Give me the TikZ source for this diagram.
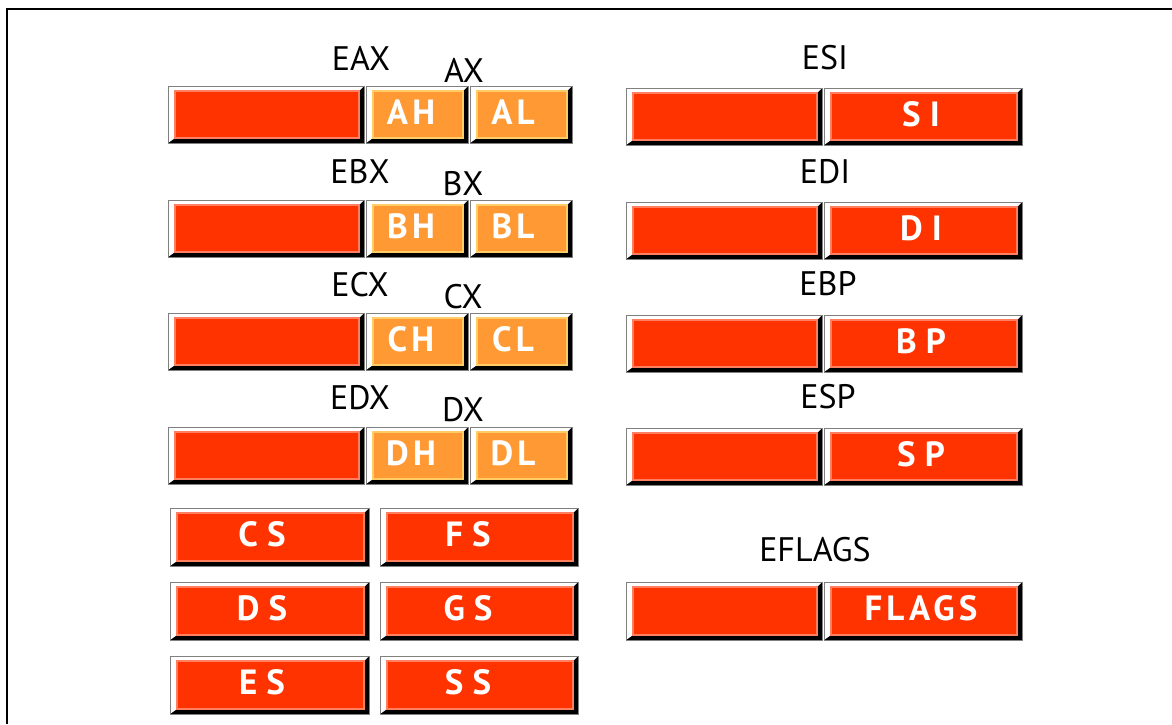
\documentclass[tikz,border=0pt]{standalone}
\usepackage{fontspec}
\setmainfont{PT Sans}
\newfontfamily\boxfont[LetterSpace=12]{PT Sans}
\definecolor{regred}{HTML}{FF3300}
\definecolor{regredline}{HTML}{FF8060}
\definecolor{regorange}{HTML}{FF9933}
\definecolor{regorangeline}{HTML}{FFCC66}
\newcommand\lgap{\hspace{9pt}}
\tikzset{
  redface/.style={fill=regred, draw=regredline, line width=1.2pt},
  orangeface/.style={fill=regorange, draw=regorangeline, line width=1.2pt},
  boxlabel/.style={text=white, font=\boxfont\bfseries\fontsize{35}{35}\selectfont, inner sep=0pt},
  reglabel/.style={text=black, font=\fontsize{34}{34}\selectfont, inner sep=0pt},
}
% name, x0, y0, x1, y1, face style, label x, label text
\newcommand\regbox[8]{%
  \fill[black] (#2,#3) rectangle (#4,#5);
  \fill[white] (#2,#3) -- (#4,#3) -- ({#4-5},{#3+5}) -- ({#2+7},{#3+5}) -- ({#2+7},{#5-5}) -- (#2,#5) -- cycle;
  \draw[gray, line width=1pt] (#2,#3) rectangle (#4,#5);
  \node[#6, inner sep=0pt, outer sep=0pt, minimum width={#4-#2-12}, minimum height={#5-#3-10}] (#1) at ({(#2+#4+2)/2},{(#3+#5)/2}) {};
  \node[boxlabel] (#1-t) at (#7,{#3+26}) {#8};
}
\begin{document}
\begin{tikzpicture}[x=1pt,y=-1pt]
\useasboundingbox (0,0) rectangle (1172,724);
\fill[white] (0,0) rectangle (1172,724);
% frame
\coordinate (f-tr) at (1172,9);
\coordinate (f-tl) at (7,9);
\coordinate (f-bl) at (7,724);
\draw[black, line width=1.6pt] (f-tr) -- (f-tl) -- (f-bl);

% general registers (left)
\regbox{eaxh}{168}{86}{364}{143}{redface}{270}{}
\regbox{ah}{366}{86}{468}{143}{orangeface}{411}{AH}
\regbox{al}{470}{86}{572}{143}{orangeface}{513}{AL}
\regbox{ebxh}{168}{200}{364}{257}{redface}{270}{}
\regbox{bh}{366}{200}{468}{257}{orangeface}{411}{BH}
\regbox{bl}{470}{200}{572}{257}{orangeface}{513}{BL}
\regbox{ecxh}{168}{313}{364}{370}{redface}{270}{}
\regbox{ch}{366}{313}{468}{370}{orangeface}{411}{CH}
\regbox{cl}{470}{313}{572}{370}{orangeface}{513}{CL}
\regbox{edxh}{168}{427}{364}{484}{redface}{270}{}
\regbox{dh}{366}{427}{468}{484}{orangeface}{411}{DH}
\regbox{dl}{470}{427}{572}{484}{orangeface}{513}{DL}

\node[reglabel] (eax) at (361,58) {EAX};
\node[reglabel] (ax) at (464,70) {AX};
\node[reglabel] (ebx) at (360,172) {EBX};
\node[reglabel] (bx) at (463,184) {BX};
\node[reglabel] (ecx) at (360,285) {ECX};
\node[reglabel] (cx) at (463,297) {CX};
\node[reglabel] (edx) at (360,398) {EDX};
\node[reglabel] (dx) at (463,410) {DX};

% index / pointer registers (right)
\regbox{esih}{626}{88}{822}{145}{redface}{724}{}
\regbox{si}{824}{88}{1022}{145}{redface}{921}{S\lgap I}
\regbox{edih}{626}{202}{822}{259}{redface}{724}{}
\regbox{di}{824}{202}{1022}{259}{redface}{921}{D\lgap I}
\regbox{ebph}{626}{315}{822}{372}{redface}{724}{}
\regbox{bp}{824}{315}{1022}{372}{redface}{921}{B\lgap P}
\regbox{esph}{626}{428}{822}{485}{redface}{724}{}
\regbox{sp}{824}{428}{1022}{485}{redface}{921}{S\lgap P}

\node[reglabel] (esi) at (825,58) {ESI};
\node[reglabel] (edi) at (825,172) {EDI};
\node[reglabel] (ebp) at (828,284) {EBP};
\node[reglabel] (esp) at (828,397) {ESP};

% segment registers
\regbox{cs}{170}{508}{369}{566}{redface}{262}{C\lgap S}
\regbox{fs}{380}{508}{578}{566}{redface}{468}{F\lgap S}
\regbox{ds}{170}{582}{369}{640}{redface}{262}{D\lgap S}
\regbox{gs}{380}{582}{578}{640}{redface}{468}{G\lgap S}
\regbox{es}{170}{656}{369}{714}{redface}{262}{E\lgap S}
\regbox{ss}{380}{656}{578}{714}{redface}{468}{S\lgap S}

% flags
\regbox{eflagsh}{626}{582}{822}{640}{redface}{724}{}
\regbox{flags}{824}{582}{1022}{640}{redface}{921}{FLAGS}
\node[reglabel] (eflags) at (815,550) {EFLAGS};
\end{tikzpicture}
\end{document}
